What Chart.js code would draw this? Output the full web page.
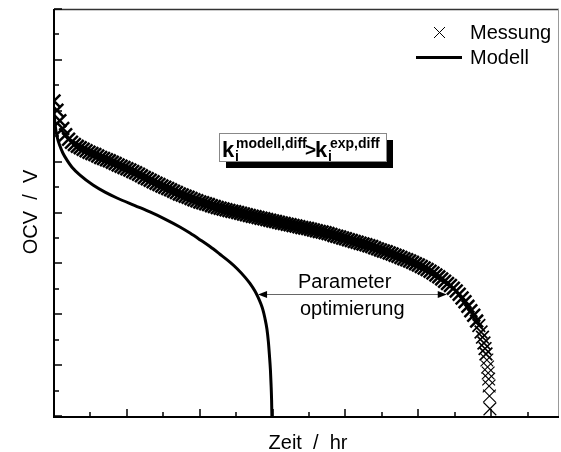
<!DOCTYPE html>
<html lang="de">
<head>
    <meta charset="UTF-8">
    <title>OCV Entladung</title>
    <script src="https://cdn.jsdelivr.net/npm/chart.js"></script>
    <style>
        html, body { margin: 0; padding: 0; background: #fff; }
        #ocv-chart { display: block; }
    </style>
</head>
<body>
    <canvas id="ocv-chart" width="561" height="452"></canvas>

    <script>
        // Messung (Kreuze)
        const messZeit = [
            0.00, 0.04, 0.08, 0.12, 0.16, 0.20, 0.24, 0.28, 0.32, 0.36, 0.40, 0.44, 0.48, 0.52, 0.56, 0.60,
            0.64, 0.68, 0.72, 0.76, 0.80, 0.84, 0.88, 0.92, 0.96, 1.00, 1.04, 1.08, 1.12, 1.16, 1.20, 1.24,
            1.28, 1.32, 1.36, 1.40, 1.44, 1.48, 1.52, 1.56, 1.60, 1.64, 1.68, 1.72, 1.76, 1.80, 1.84, 1.88,
            1.92, 1.96, 2.00, 2.04, 2.08, 2.12, 2.16, 2.20, 2.24, 2.28, 2.32, 2.36, 2.40, 2.44, 2.48, 2.52,
            2.56, 2.60, 2.64, 2.68, 2.72, 2.76, 2.80, 2.84, 2.88, 2.92, 2.96, 3.00, 3.04, 3.08, 3.12, 3.16,
            3.20, 3.24, 3.28, 3.32, 3.36, 3.40, 3.44, 3.48, 3.52, 3.56, 3.60, 3.64, 3.68, 3.72, 3.76, 3.80,
            3.84, 3.88, 3.92, 3.96, 4.00, 4.04, 4.08, 4.12, 4.16, 4.20, 4.24, 4.28, 4.32, 4.36, 4.40, 4.44,
            4.48, 4.52, 4.56, 4.60, 4.64, 4.68, 4.72, 4.76, 4.80, 4.84, 4.88, 4.92, 4.96, 5.00, 5.04, 5.08,
            5.12, 5.16, 5.20, 5.24, 5.28, 5.32, 5.36, 5.40, 5.44, 5.48, 5.52, 5.56, 5.60, 5.64, 5.68, 5.72,
            5.76, 5.80, 5.83, 5.86, 5.88, 5.90, 5.915, 5.928, 5.94, 5.95, 5.958, 5.965, 5.971, 5.976, 5.982
        ];
        const messOCV = [
            3.838, 3.802, 3.761, 3.730, 3.706, 3.688, 3.676, 3.667, 3.660, 3.655, 3.649, 3.643, 3.637, 3.632, 3.628, 3.622,
            3.616, 3.612, 3.607, 3.603, 3.598, 3.593, 3.587, 3.582, 3.577, 3.572, 3.567, 3.561, 3.556, 3.550, 3.544, 3.538,
            3.533, 3.527, 3.521, 3.515, 3.510, 3.504, 3.499, 3.494, 3.489, 3.484, 3.479, 3.473, 3.469, 3.464, 3.460, 3.455,
            3.450, 3.446, 3.441, 3.438, 3.434, 3.431, 3.427, 3.424, 3.420, 3.417, 3.414, 3.411, 3.408, 3.405, 3.403, 3.400,
            3.397, 3.394, 3.391, 3.388, 3.385, 3.383, 3.380, 3.377, 3.375, 3.372, 3.370, 3.367, 3.365, 3.362, 3.359, 3.357,
            3.354, 3.352, 3.349, 3.347, 3.344, 3.341, 3.339, 3.337, 3.334, 3.331, 3.328, 3.325, 3.323, 3.320, 3.317, 3.314,
            3.310, 3.307, 3.304, 3.300, 3.297, 3.293, 3.290, 3.286, 3.283, 3.279, 3.276, 3.273, 3.269, 3.266, 3.261, 3.257,
            3.253, 3.249, 3.246, 3.241, 3.237, 3.232, 3.228, 3.223, 3.218, 3.214, 3.209, 3.204, 3.199, 3.194, 3.188, 3.182,
            3.176, 3.169, 3.162, 3.154, 3.147, 3.139, 3.130, 3.121, 3.113, 3.102, 3.091, 3.079, 3.064, 3.049, 3.031, 3.014,
            2.996, 2.973, 2.956, 2.930, 2.910, 2.887, 2.865, 2.844, 2.820, 2.793, 2.769, 2.745, 2.718, 2.679, 2.628
        ];

        // Modell (Linie)
        const modZeit = [
            0.000, 0.014, 0.041, 0.082, 0.123, 0.178, 0.247, 0.357, 0.535, 0.700, 0.864, 1.111, 1.317, 1.523,
            1.728, 1.866, 2.003, 2.140, 2.277, 2.414, 2.510, 2.620, 2.689, 2.757, 2.798, 2.840, 2.867, 2.894,
            2.922, 2.942, 2.956, 2.970, 2.979, 2.986, 2.990
        ];
        const modOCV = [
            3.794, 3.747, 3.700, 3.661, 3.633, 3.606, 3.578, 3.547, 3.508, 3.480, 3.457, 3.427, 3.402, 3.374,
            3.343, 3.319, 3.293, 3.266, 3.236, 3.205, 3.180, 3.146, 3.121, 3.091, 3.068, 3.040, 3.017, 2.985,
            2.942, 2.891, 2.840, 2.781, 2.722, 2.663, 2.600
        ];

        // Achsen (ohne Beschriftung, nur Striche)
        const xMajor = [0, 1, 2, 3, 4, 5, 6];
        const xMinor = [0.5, 1.5, 2.5, 3.5, 4.5, 5.5, 6.5];
        const yMajor = [2.6, 2.8, 3.0, 3.2, 3.4, 3.6, 3.8, 4.0, 4.2];
        const yMinor = [2.7, 2.9, 3.1, 3.3, 3.5, 3.7, 3.9, 4.1];

        // Pfeil "Parameter optimierung": von Modell zur Messung
        const pfeilOCV = 3.081;
        const pfeilVon = 2.80;
        const pfeilBis = 5.39;

        const FONT = '"Liberation Sans", Arial, sans-serif';

        function pfeilspitze(ctx, x, y, dir) {
            ctx.beginPath();
            ctx.moveTo(x, y);
            ctx.lineTo(x - dir * 9, y - 3.5);
            ctx.lineTo(x - dir * 9, y + 3.5);
            ctx.closePath();
            ctx.fill();
        }

        const rahmenPlugin = {
            id: 'rahmen',
            afterDraw(chart) {
                const ctx = chart.ctx;
                const a = chart.chartArea;
                const xs = chart.scales.x;
                const ys = chart.scales.y;
                ctx.save();

                // Rahmen
                ctx.strokeStyle = '#333';
                ctx.lineWidth = 1.5;
                ctx.beginPath();
                ctx.moveTo(a.left, a.top + 0.5);
                ctx.lineTo(a.right, a.top + 0.5);
                ctx.stroke();
                ctx.strokeStyle = '#999';
                ctx.lineWidth = 1;
                ctx.beginPath();
                ctx.moveTo(a.right - 0.5, a.top);
                ctx.lineTo(a.right - 0.5, a.bottom);
                ctx.stroke();
                ctx.strokeStyle = '#000';
                ctx.lineWidth = 2;
                ctx.beginPath();
                ctx.moveTo(a.left, a.top);
                ctx.lineTo(a.left, a.bottom + 1);
                ctx.lineTo(a.right, a.bottom + 1);
                ctx.stroke();

                // Striche nach innen
                ctx.lineWidth = 1.5;
                ctx.strokeStyle = '#000';
                ctx.beginPath();
                xMajor.forEach(v => { const p = Math.round(xs.getPixelForValue(v)); ctx.moveTo(p, a.bottom); ctx.lineTo(p, a.bottom - 7); });
                xMinor.forEach(v => { const p = Math.round(xs.getPixelForValue(v)); ctx.moveTo(p, a.bottom); ctx.lineTo(p, a.bottom - 4); });
                yMajor.forEach(v => { const p = Math.round(ys.getPixelForValue(v)); ctx.moveTo(a.left, p); ctx.lineTo(a.left + 8, p); });
                yMinor.forEach(v => { const p = Math.round(ys.getPixelForValue(v)); ctx.moveTo(a.left, p); ctx.lineTo(a.left + 5, p); });
                ctx.stroke();

                // Achsentitel
                ctx.fillStyle = '#000';
                ctx.font = '20px ' + FONT;
                ctx.textAlign = 'center';
                ctx.textBaseline = 'alphabetic';
                ctx.fillText('Zeit  /  hr', 308, 449);
                ctx.save();
                ctx.translate(37, 212);
                ctx.rotate(-Math.PI / 2);
                ctx.fillText('OCV  /  V', 0, 0);
                ctx.restore();

                // Legende
                ctx.textAlign = 'left';
                ctx.textBaseline = 'middle';
                ctx.fillText('Messung', 470, 33);
                ctx.fillText('Modell', 470, 58);
                ctx.lineWidth = 1;
                ctx.beginPath();
                ctx.moveTo(434, 27); ctx.lineTo(445, 38);
                ctx.moveTo(445, 27); ctx.lineTo(434, 38);
                ctx.stroke();
                ctx.lineWidth = 3;
                ctx.beginPath();
                ctx.moveTo(416, 57.5); ctx.lineTo(462, 57.5);
                ctx.stroke();

                // Kasten mit k-Werten
                ctx.fillStyle = '#000';
                ctx.fillRect(226, 140, 167, 28);
                ctx.fillStyle = '#fff';
                ctx.fillRect(219, 133, 167, 28);
                ctx.strokeStyle = '#888';
                ctx.lineWidth = 1;
                ctx.strokeRect(219.5, 133.5, 167, 28);
                ctx.fillStyle = '#000';
                ctx.textBaseline = 'alphabetic';
                ctx.font = 'bold 22px ' + FONT;
                ctx.fillText('k', 222, 157);
                ctx.fillText('k', 315, 157);
                ctx.font = 'bold 19px ' + FONT;
                ctx.fillText('>', 305, 156);
                ctx.font = 'bold 14px ' + FONT;
                ctx.fillText('modell,diff', 236, 148);
                ctx.fillText('exp,diff', 330, 148);
                ctx.fillText('i', 235, 161);
                ctx.fillText('i', 328, 161);

                // Pfeil und Text
                const py = Math.round(ys.getPixelForValue(pfeilOCV)) + 0.5;
                const x1 = xs.getPixelForValue(pfeilVon);
                const x2 = xs.getPixelForValue(pfeilBis);
                ctx.strokeStyle = '#666';
                ctx.lineWidth = 1;
                ctx.beginPath();
                ctx.moveTo(x1 + 4, py);
                ctx.lineTo(x2 - 4, py);
                ctx.stroke();
                ctx.fillStyle = '#000';
                pfeilspitze(ctx, x1, py, -1);
                pfeilspitze(ctx, x2, py, 1);
                ctx.font = '20px ' + FONT;
                ctx.fillText('Parameter', 298, 288);
                ctx.fillText('optimierung', 300, 315);

                ctx.restore();
            }
        };

        const ctx = document.getElementById('ocv-chart').getContext('2d');
        const ocvChart = new Chart(ctx, {
            type: 'scatter',
            data: {
                datasets: [
                    {
                        label: 'Modell',
                        type: 'line',
                        data: modZeit.map((t, i) => ({ x: t, y: modOCV[i] })),
                        borderColor: '#000',
                        borderWidth: 3,
                        pointRadius: 0,
                        fill: false,
                        cubicInterpolationMode: 'monotone',
                        clip: 0
                    },
                    {
                        label: 'Messung',
                        data: messZeit.map((t, i) => ({ x: t, y: messOCV[i] })),
                        pointStyle: 'crossRot',
                        pointRadius: 9,
                        borderColor: '#000',
                        // dichtes Band kräftig, einzelne Kreuze am Ende dünn
                        borderWidth: c => {
                            const v = c.raw ? c.raw.y : 3.5;
                            if (v >= 2.97) return 2.5;
                            if (v >= 2.84) return 1.7;
                            return 1.1;
                        },
                        showLine: false,
                        clip: 0
                    }
                ]
            },
            options: {
                responsive: false,
                animation: false,
                layout: {
                    autoPadding: false,
                    padding: { left: 54, top: 9, right: 2, bottom: 36 }
                },
                scales: {
                    x: { type: 'linear', min: 0, max: 6.93, display: false },
                    y: { type: 'linear', min: 2.6, max: 4.2, display: false }
                },
                plugins: {
                    legend: { display: false },
                    tooltip: { enabled: false }
                }
            },
            plugins: [rahmenPlugin]
        });
    </script>
</body>
</html>
